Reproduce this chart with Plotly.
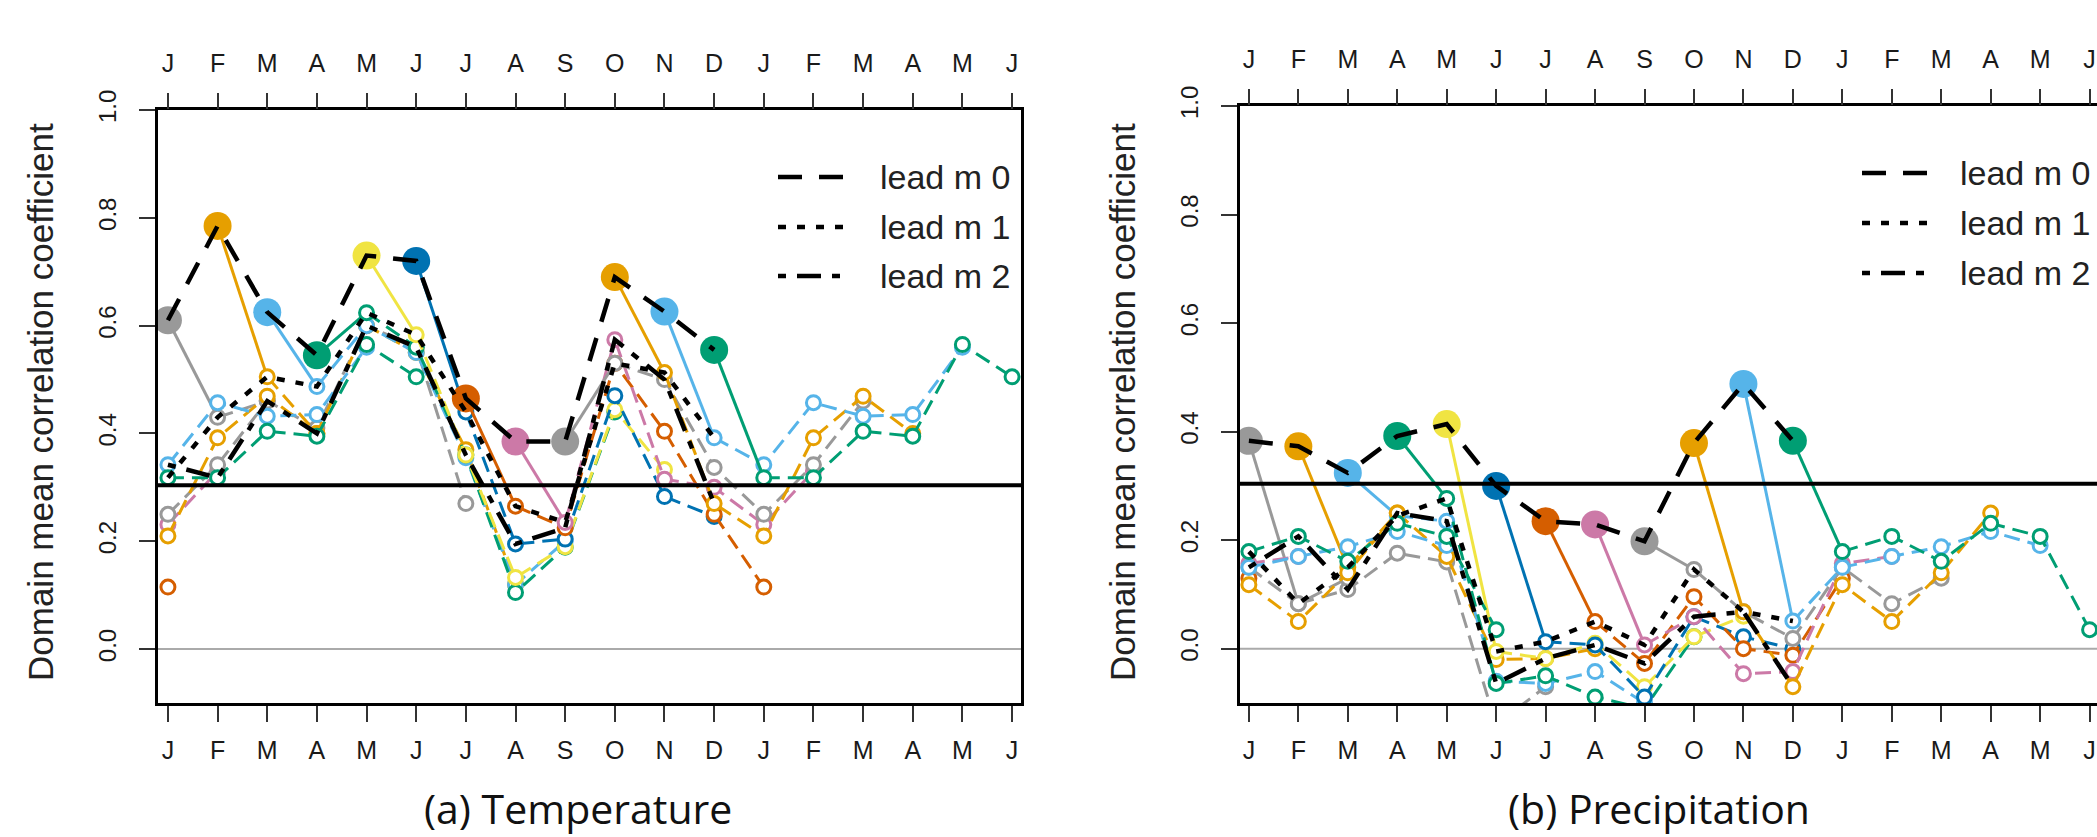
import plotly.graph_objects as go

W, H = 2097, 837

MONTHS = ["J", "F", "M", "A", "M", "J", "J", "A", "S", "O", "N", "D", "J", "F", "M", "A", "M", "J"]
X_POS = list(range(1, 19))
Y_TICKS = [0.0, 0.2, 0.4, 0.6, 0.8, 1.0]
N_LEADS = 7
INIT_COLORS = ["#999999", "#E69F00", "#56B4E9", "#009E73", "#F0E442", "#0072B2",
               "#D55E00", "#CC79A7", "#999999", "#E69F00", "#56B4E9", "#009E73"]
LEGEND_LABELS = ["lead m 0", "lead m 1", "lead m 2"]
THRESHOLD = 0.304

# Temperature: correlation per initialisation month, leads 0..6
TEMP_JAN = [0.61, 0.43, 0.46, 0.41, 0.60, 0.56, 0.27]
TEMP_FEB = [0.785, 0.505, 0.40, 0.60, 0.55, 0.37, 0.12]
TEMP_MAR = [0.625, 0.487, 0.60, 0.55, 0.355, 0.12, 0.20]
TEMP_APR = [0.545, 0.624, 0.56, 0.36, 0.105, 0.189, 0.44]
TEMP_MAY = [0.73, 0.583, 0.36, 0.133, 0.19, 0.444, 0.333]
TEMP_JUN = [0.72, 0.44, 0.195, 0.204, 0.47, 0.283, 0.246]
TEMP_JUL = [0.465, 0.265, 0.225, 0.53, 0.404, 0.25, 0.115]
TEMP_AUG = [0.385, 0.235, 0.574, 0.315, 0.30, 0.231, 0.33]
TEMP_SEP = [0.385, 0.53, 0.50, 0.337, 0.25, 0.342, 0.46]
TEMP_OCT = [0.69, 0.513, 0.27, 0.21, 0.392, 0.469, 0.40]
TEMP_NOV = [0.626, 0.392, 0.342, 0.457, 0.432, 0.435, 0.56]
TEMP_DEC = [0.555, 0.318, 0.318, 0.404, 0.395, 0.565, 0.505]

# Precipitation
PREC_JAN = [0.383, 0.083, 0.109, 0.176, 0.16, -0.14, -0.07]
PREC_FEB = [0.373, 0.15, 0.25, 0.17, -0.02, -0.018, 0.0]
PREC_MAR = [0.324, 0.245, 0.235, -0.06, -0.064, -0.042, -0.1]
PREC_APR = [0.392, 0.277, -0.064, -0.05, -0.089, -0.11, 0.022]
PREC_MAY = [0.414, -0.005, -0.018, 0.01, -0.07, 0.022, 0.06]
PREC_JUN = [0.30, 0.013, 0.007, -0.089, 0.059, 0.022, 0.0]
PREC_JUL = [0.235, 0.05, -0.027, 0.096, 0.0, -0.012, 0.13]
PREC_AUG = [0.229, 0.007, 0.059, -0.046, -0.042, 0.157, 0.17]
PREC_SEP = [0.198, 0.146, 0.068, 0.019, 0.15, 0.083, 0.13]
PREC_OCT = [0.379, 0.068, -0.07, 0.118, 0.05, 0.14, 0.25]
PREC_NOV = [0.488, 0.051, 0.15, 0.17, 0.188, 0.216, 0.19]
PREC_DEC = [0.383, 0.179, 0.207, 0.161, 0.231, 0.207, 0.035]

TEMP = [TEMP_JAN, TEMP_FEB, TEMP_MAR, TEMP_APR, TEMP_MAY, TEMP_JUN,
        TEMP_JUL, TEMP_AUG, TEMP_SEP, TEMP_OCT, TEMP_NOV, TEMP_DEC]
PREC = [PREC_JAN, PREC_FEB, PREC_MAR, PREC_APR, PREC_MAY, PREC_JUN,
        PREC_JUL, PREC_AUG, PREC_SEP, PREC_OCT, PREC_NOV, PREC_DEC]

FONT = "Liberation Sans, Arial, sans-serif"
BLACK_DASH = ["24px,17px", "8px,11px", "8px,11px,24px,11px"]


def px(x):
    return x / W


def py(y):
    return 1 - y / H


fig = go.Figure()


def add_panel(vals, xa, ya):
    open_marker = lambda c: dict(symbol="circle", size=14, color="white",
                                 line=dict(color=c, width=3))
    for i, v in enumerate(vals):
        init = i + 1
        c = INIT_COLORS[i]
        xs = [init + L for L in range(N_LEADS)]
        fig.add_trace(go.Scatter(x=xs[:2], y=v[:2], mode="lines", xaxis=xa, yaxis=ya,
                                 line=dict(color=c, width=3), showlegend=False, hoverinfo="skip"))
        fig.add_trace(go.Scatter(x=xs[1:], y=v[1:], mode="lines+markers", xaxis=xa, yaxis=ya,
                                 line=dict(color=c, width=3, dash="16px,8px"),
                                 marker=open_marker(c), showlegend=False))
        wx = [x - 12 for x in xs if x > 12]
        wy = [v[L] for L in range(N_LEADS) if xs[L] > 12]
        if wx:
            fig.add_trace(go.Scatter(x=wx, y=wy, mode="lines+markers", xaxis=xa, yaxis=ya,
                                     line=dict(color=c, width=3, dash="16px,8px"),
                                     marker=open_marker(c), showlegend=False))
        fig.add_trace(go.Scatter(x=[init], y=[v[0]], mode="markers", xaxis=xa, yaxis=ya,
                                 marker=dict(size=28, color=c), showlegend=False))
    for L in range(3):
        tx = list(range(1, 13))
        ty = [vals[(t - L - 1) % 12][L] for t in tx]
        fig.add_trace(go.Scatter(x=tx, y=ty, mode="lines", xaxis=xa, yaxis=ya,
                                 line=dict(color="black", width=4.5, dash=BLACK_DASH[L]),
                                 showlegend=False))


add_panel(TEMP, "x", "y")
add_panel(PREC, "x2", "y2")
fig.add_trace(go.Scatter(x=[1], y=[None], xaxis="x3", yaxis="y", showlegend=False))
fig.add_trace(go.Scatter(x=[1], y=[None], xaxis="x4", yaxis="y2", showlegend=False))

L_DOM = [px(158), px(1021)]
R_DOM = [px(1240), 1.0]
Y_DOM_L = [py(703), py(110)]
Y_DOM_R = [py(703), py(106)]
L_RANGE = [0.80, 18.18]
R_RANGE = [0.82, 18.15]
Y_RANGE = [-0.1, 1.0]

tickfont = dict(family=FONT, size=25, color="#1a1a1a")
common_x = dict(tickmode="array", tickvals=X_POS, ticktext=MONTHS, ticks="outside",
                ticklen=16, tickwidth=2, tickcolor="#333", showgrid=False, zeroline=False,
                tickfont=tickfont, automargin=False, ticklabeloverflow="allow")
common_y = dict(tickmode="array", tickvals=Y_TICKS, ticktext=[f"{t:.1f}" for t in Y_TICKS],
                ticks="outside", ticklen=16, tickwidth=2, tickcolor="#333", showgrid=False,
                zeroline=False, tickfont=dict(family=FONT, size=24, color="#1a1a1a"),
                tickangle=-90, range=Y_RANGE, automargin=False,
                showline=True, linecolor="black", linewidth=2.5, ticklabelstandoff=14)
BOTTOM_STANDOFF = 7
TOP_STANDOFF = 11

fig.update_layout(
    width=W, height=H, margin=dict(l=0, r=0, t=0, b=0, autoexpand=False),
    paper_bgcolor="white", plot_bgcolor="white", showlegend=False,
    xaxis=dict(domain=L_DOM, range=L_RANGE, anchor="y", showline=True, linecolor="black",
               linewidth=2.5, mirror=True, ticklabelstandoff=BOTTOM_STANDOFF, **common_x),
    yaxis=dict(domain=Y_DOM_L, anchor="x", mirror=True, **common_y),
    xaxis2=dict(domain=R_DOM, range=R_RANGE, anchor="y2", showline=True, linecolor="black",
                linewidth=2.5, mirror=True, ticklabelstandoff=BOTTOM_STANDOFF, **common_x),
    yaxis2=dict(domain=Y_DOM_R, anchor="x2", mirror=False, **common_y),
    xaxis3=dict(overlaying="x", side="top", anchor="y", range=L_RANGE, showline=False,
                ticklabelstandoff=TOP_STANDOFF, **common_x),
    xaxis4=dict(overlaying="x2", side="top", anchor="y2", range=R_RANGE, showline=False,
                ticklabelstandoff=TOP_STANDOFF, **common_x),
)

shapes = []
for xr, yr in [("x", "y"), ("x2", "y2")]:
    shapes.append(dict(type="line", xref=f"{xr} domain", yref=yr, x0=0, x1=1, y0=0, y1=0,
                       line=dict(color="#aaaaaa", width=2), layer="below"))
    shapes.append(dict(type="line", xref=f"{xr} domain", yref=yr, x0=0, x1=1,
                       y0=THRESHOLD, y1=THRESHOLD, line=dict(color="black", width=4),
                       layer="above"))

annotations = []
legend_pos = [(778, 847, 878, [177, 227, 276]), (1862, 1928, 1958, [173, 223, 273])]
for x0, x1, xt, rows in legend_pos:
    for k, yy in enumerate(rows):
        shapes.append(dict(type="line", xref="paper", yref="paper", x0=px(x0), x1=px(x1),
                           y0=py(yy), y1=py(yy),
                           line=dict(color="black", width=4.5, dash=BLACK_DASH[k])))
        annotations.append(dict(text=LEGEND_LABELS[k], xref="paper", yref="paper",
                                x=px(xt), y=py(yy), xanchor="left", yanchor="middle",
                                showarrow=False, font=dict(family=FONT, size=34, color="#222")))

for xc in [40, 1122]:
    annotations.append(dict(text="Domain mean correlation coefficient", xref="paper", yref="paper",
                            x=px(xc), y=py(402), textangle=-90, showarrow=False,
                            xanchor="center", yanchor="middle",
                            font=dict(family=FONT, size=35, color="#222")))

for txt, xc in [("(a) Temperature", 578), ("(b) Precipitation", 1659)]:
    annotations.append(dict(text=txt, xref="paper", yref="paper", x=px(xc), y=py(808),
                            xanchor="center", yanchor="middle", showarrow=False,
                            font=dict(family="Open Sans, sans-serif", size=41, color="#111")))

fig.update_layout(shapes=shapes, annotations=annotations)
fig.write_html("out.html", config={"displayModeBar": False},
               post_script="document.body.style.margin='0px';")
